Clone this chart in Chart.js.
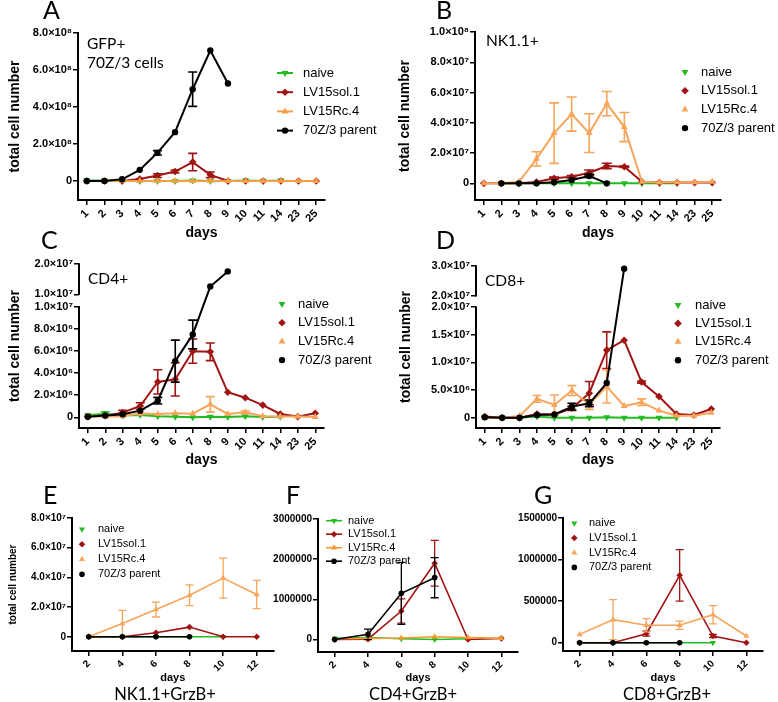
<!DOCTYPE html>
<html>
<head>
<meta charset="utf-8">
<script src="https://cdn.jsdelivr.net/npm/chart.js@4.4.0/dist/chart.umd.min.js"></script>
<style>
  body { margin: 0; background: #fff; }
  #fig { position: relative; width: 778px; height: 702px; overflow: hidden; font-family: Lato, 'Open Sans', sans-serif; }
  #fig canvas { position: absolute; left: 0; top: 0; }
  .t { position: absolute; line-height: 1; white-space: nowrap; color: #000; }
  .big { font-size: 25px; }
  .lab { font-size: 15.5px; }
  .cap { font-size: 16.5px; width: 200px; text-align: center; }
</style>
</head>
<body>
<div id="fig">
  <canvas id="cA" width="778" height="702"></canvas>
  <canvas id="cB" width="778" height="702"></canvas>
  <canvas id="cC" width="778" height="702"></canvas>
  <canvas id="cD" width="778" height="702"></canvas>
  <canvas id="cE" width="778" height="702"></canvas>
  <canvas id="cF" width="778" height="702"></canvas>
  <canvas id="cG" width="778" height="702"></canvas>

  <div class="t big" style="left:43px;top:-3px">A</div>
  <div class="t big" style="left:436px;top:-3px">B</div>
  <div class="t big" style="left:41px;top:227px">C</div>
  <div class="t big" style="left:436px;top:227px">D</div>
  <div class="t big" style="left:43px;top:482px">E</div>
  <div class="t big" style="left:286px;top:482px">F</div>
  <div class="t big" style="left:534px;top:482px">G</div>

  <div class="t lab" style="left:87px;top:36px">GFP+</div>
  <div class="t lab" style="left:87px;top:54.5px">70Z/3 cells</div>
  <div class="t lab" style="left:486px;top:33px">NK1.1+</div>
  <div class="t lab" style="left:88px;top:271px">CD4+</div>
  <div class="t lab" style="left:485px;top:273px">CD8+</div>

  <div class="t cap" style="left:65px;top:686px">NK1.1+GrzB+</div>
  <div class="t cap" style="left:313px;top:686px">CD4+GrzB+</div>
  <div class="t cap" style="left:567px;top:686px">CD8+GrzB+</div>
</div>
<script>
// ---- data ----
const days = ['1', '2', '3', '4', '5', '6', '7', '8', '9', '10', '11', '14', '23', '25'];
const days2 = ['2', '4', '6', '8', '10', '12'];
const seriesNames = ['naive', 'LV15sol.1', 'LV15Rc.4', '70Z/3 parent'];

// A: GFP+ 70Z/3 cells
const naiveA = [2e6, 2e6, 0, 0, 0, 0, 2e6, 0, 0, 2e6, 0, 2e6, null, null];
const solA = [0, 0, 0, 1e7, 2.9e7, 5.1e7, 1.02e8, 3.3e7, 0, 0, 0, 0, 0, 0];
const solAErr = [0, 0, 0, 0, 1e7, 8e6, 4.7e7, 1.5e7, 0, 0, 0, 0, 0, 0];
const rcA = [0, 0, 0, 0, 0, 0, 0, 0, 0, 0, 0, 0, 0, 0];
const parA = [0, 0, 9e6, 6e7, 1.52e8, 2.64e8, 4.96e8, 7.05e8, 5.27e8, null, null, null, null, null];
const parAErr = [0, 0, 0, 0, 1.2e7, 0, 9.3e7, 0, 0, 0, 0, 0, 0, 0];
const ticksA = [0, 2e8, 4e8, 6e8, 8e8];
const tickLabelsA = ['0', '2.0×10⁸', '4.0×10⁸', '6.0×10⁸', '8.0×10⁸'];

// B: NK1.1+
const naiveB = [null, 0, 0, 0, 0, 0, 0, 0, 0, 0, 0, 0, null, null];
const solB = [0, 0, 0, 9e5, 3.3e6, 4.4e6, 7e6, 1.15e7, 1.1e7, 1e6, 5e5, 5e5, 5e5, 5e5];
const solBErr = [0, 0, 0, 0, 8e5, 8e5, 1.8e6, 1.8e6, 5e5, 0, 0, 0, 0, 0];
const rcB = [0, 0, 1e6, 1.62e7, 3.32e7, 4.58e7, 3.32e7, 5.27e7, 3.72e7, 1e6, 5e5, 7e5, 7e5, 1e6];
const rcBErr = [0, 0, 0, 4.7e6, 2e7, 1.13e7, 1.28e7, 8e6, 9.6e6, 0, 0, 0, 0, 0];
const parB = [null, 0, 0, 0, 7e5, 2.2e6, 4.9e6, 0, null, null, null, null, null, null];
const parBErr = [0, 0, 0, 0, 0, 0, 1e6, 0, 0, 0, 0, 0, 0, 0];
const ticksB = [0, 2e7, 4e7, 6e7, 8e7, 1e8];
const tickLabelsB = ['0', '2.0×10⁷', '4.0×10⁷', '6.0×10⁷', '8.0×10⁷', '1.0×10⁸'];

// C: CD4+ (broken axis)
const naiveC = [2e5, 3e5, 1.5e5, 2e5, 1e5, 5e4, 0, 5e4, 3e4, 1e5, 3e4, 5e4, null, null];
const naiveCErr = [0, 2e5, 0, 0, 0, 0, 0, 0, 0, 0, 0, 0, 0, 0];
const solC = [6e4, 1.5e5, 4.2e5, 1.02e6, 3.2e6, 3.43e6, 5.98e6, 5.92e6, 2.26e6, 1.77e6, 1.1e6, 3e5, 6e4, 3.6e5];
const solCErr = [0, 0, 2e5, 3e5, 1.1e6, 1.5e6, 1.1e6, 8e5, 0, 0, 0, 0, 0, 0];
const rcC = [6e4, 6e4, 1e5, 3.3e5, 3e5, 3.6e5, 3.3e5, 1.17e6, 3e5, 4.5e5, 1e5, 6e4, 6e4, 3e4];
const rcCErr = [0, 0, 0, 0, 0, 0, 0, 7e5, 0, 1.2e5, 0, 0, 0, 0];
const parC = [5e4, 1.5e5, 2.7e5, 6e5, 1.5e6, 5.08e6, 7.49e6, 1.256e7, 1.756e7, null, null, null, null, null];
const parCErr = [0, 0, 0, 0, 3e5, 1.9e6, 1.3e6, 0, 0, 0, 0, 0, 0, 0];
const ticksC = [0, 2e6, 4e6, 6e6, 8e6, 1e7];
const upperTicksC = [1e7, 2e7];
const tickLabelsC = ['0', '2.0×10⁶', '4.0×10⁶', '6.0×10⁶', '8.0×10⁶', '1.0×10⁷', '1.0×10⁷', '2.0×10⁷'];

// D: CD8+ (broken axis)
const naiveD = [1e5, 0, 0, 2e5, 0, 0, 0, 1e5, 0, 0, 0, 0, null, null];
const solD = [2e5, 0, 0, 6.7e5, 6e5, 1.7e6, 4.43e6, 1.22e7, 1.4e7, 6.44e6, 3.83e6, 6.7e5, 5e5, 1.58e6];
const solDErr = [0, 0, 0, 0, 0, 4e5, 2.1e6, 3.3e6, 0, 2e5, 0, 0, 0, 0];
const rcD = [0, 0, 3e5, 3.4e6, 2.3e6, 4.9e6, 2.4e6, 5.65e6, 2.1e6, 2.8e6, 1.28e6, 3.6e5, 3.6e5, 9e5];
const rcDErr = [0, 0, 0, 6e5, 1.8e6, 9e5, 9e5, 3e6, 0, 6e5, 0, 0, 0, 0];
const parD = [1e5, 0, 0, 5e5, 6e5, 2e6, 2.6e6, 6.26e6, 2.91e7, null, null, null, null, null];
const parDErr = [0, 0, 0, 0, 0, 6e5, 6e5, 0, 0, 0, 0, 0, 0, 0];
const ticksD = [0, 5e6, 1e7, 1.5e7, 2e7];
const upperTicksD = [2e7, 3e7];
const tickLabelsD = ['0', '5.0×10⁶', '1.0×10⁷', '1.5×10⁷', '2.0×10⁷', '2.0×10⁷', '3.0×10⁷'];

// E: NK1.1+GrzB+
const naiveE = [0, 0, 0, 0, 0, null];
const solE = [0, 0, 2.7e6, 6.5e6, 0, 0];
const rcE = [0, 8.9e6, 1.83e7, 2.79e7, 3.95e7, 2.85e7];
const rcEErr = [0, 8.9e6, 5e6, 7e6, 1.35e7, 9.5e6];
const parE = [0, 0, 0, 0, null, null];
const ticksE = [0, 2e7, 4e7, 6e7, 8e7];
const tickLabelsE = ['0', '2.0×10⁷', '4.0×10⁷', '6.0×10⁷', '8.0×10⁷'];

// F: CD4+GrzB+
const naiveF = [3e4, 5e4, 2e4, 0, 2e4, null];
const solF = [0, 1e4, 7.1e5, 1.9e6, 0, 3e4];
const solFErr = [0, 0, 3e5, 5.7e5, 0, 0];
const rcF = [2e4, 3e4, 4e4, 7e4, 5e4, 3e4];
const parF = [0, 1.3e5, 1.15e6, 1.54e6, null, null];
const parFErr = [0, 1.3e5, 7.7e5, 5e5, 0, 0];
const ticksF = [0, 1e6, 2e6, 3e6];
const tickLabelsF = ['0', '1000000', '2000000', '3000000'];

// G: CD8+GrzB+
const naiveG = [0, 0, 0, 0, 0, null];
const solG = [0, 0, 1.08e5, 8.1e5, 8e4, 0];
const solGErr = [0, 0, 3e4, 3.1e5, 2e4, 0];
const rcG = [1e5, 2.77e5, 2.09e5, 2.09e5, 3.37e5, 8e4];
const rcGErr = [0, 2.4e5, 8e4, 5e4, 1.1e5, 0];
const parG = [0, 0, 0, 0, null, null];
const ticksG = [0, 5e5, 1e6, 1.5e6];
const tickLabelsG = ['0', '500000', '1000000', '1500000'];

// ---- drawing ----
const W = 778, H = 702;
const FONT = "'Liberation Sans', Arial, sans-serif";
Chart.defaults.font.family = FONT;
Chart.defaults.color = '#000';

const GREEN = '#22bb22', RED = '#a01414', ORANGE = '#f7a55a', BLACK = '#000000';
const marks = [
  { pointStyle: 'triangle', rotation: 180 },
  { pointStyle: 'rectRot', rotation: 0 },
  { pointStyle: 'triangle', rotation: 0 },
  { pointStyle: 'circle', rotation: 0 }
];

// y axis with a break: lower part [min, at], upper part [at, max]
class BrokenScale extends Chart.LinearScale {
  toPx(v, up) {
    const b = this.options.brk;
    const upH = b.upper;
    const lowH = this.bottom - this.top - b.gap - upH;
    if (up || v > b.at) return this.top + upH - (v - b.at) / (this.max - b.at) * upH;
    return this.bottom - (v - this.min) / (b.at - this.min) * lowH;
  }
  getPixelForValue(v) { return this.toPx(v, false); }
  getPixelForTick(i) { const t = this.ticks[i]; return this.toPx(t.value, t.up); }
}
BrokenScale.id = 'broken';
Chart.register(BrokenScale);

const errorBars = {
  id: 'errorBars',
  beforeDatasetDraw(chart, args, opts) {
    const ds = chart.data.datasets[args.index];
    if (!ds.err) return;
    const y = chart.scales.y, ctx = chart.ctx, cap = opts.cap;
    ctx.save();
    ctx.strokeStyle = ds.borderColor;
    ctx.lineWidth = opts.width;
    args.meta.data.forEach((pt, j) => {
      const v = ds.data[j], e = ds.err[j];
      if (v == null || !e) return;
      const y1 = y.getPixelForValue(v + e), y2 = y.getPixelForValue(v - e);
      ctx.beginPath();
      ctx.moveTo(pt.x, y1); ctx.lineTo(pt.x, y2);
      ctx.moveTo(pt.x - cap, y1); ctx.lineTo(pt.x + cap, y1);
      ctx.moveTo(pt.x - cap, y2); ctx.lineTo(pt.x + cap, y2);
      ctx.stroke();
    });
    ctx.restore();
  }
};

const sideLegend = {
  id: 'sideLegend',
  afterDraw(chart, args, o) {
    const ctx = chart.ctx;
    ctx.save();
    ctx.font = o.size + 'px ' + FONT;
    ctx.textBaseline = 'middle';
    chart.data.datasets.forEach((d, i) => {
      const y = o.y + i * o.dy;
      if (o.line) {
        ctx.strokeStyle = d.borderColor;
        ctx.lineWidth = d.borderWidth;
        ctx.beginPath();
        ctx.moveTo(o.x - o.line, y); ctx.lineTo(o.x + o.line, y);
        ctx.stroke();
      }
      ctx.fillStyle = d.pointBackgroundColor;
      Chart.helpers.drawPoint(ctx, { pointStyle: d.pointStyle, rotation: d.pointRotation, radius: d.pointRadius, borderWidth: 0 }, o.x, y);
      ctx.fillStyle = '#000';
      ctx.fillText(d.label, o.tx, y);
    });
    ctx.restore();
  }
};

const brokenBorder = {
  id: 'brokenBorder',
  afterDraw(chart) {
    const s = chart.scales.y;
    if (!(s instanceof BrokenScale)) return;
    const b = s.options.brk, ctx = chart.ctx, x = s.right;
    ctx.save();
    ctx.strokeStyle = '#000';
    ctx.lineWidth = 2;
    ctx.beginPath();
    ctx.moveTo(x, s.top - 0.75); ctx.lineTo(x, s.toPx(b.at, true) + 0.75);
    ctx.moveTo(x, s.toPx(b.at, false) - 0.75); ctx.lineTo(x, s.bottom);
    ctx.stroke();
    ctx.restore();
  }
};

function panel(id, p) {
  const ylh = p.yTitleSize * 1.2, xlh = p.xTitleSize * 1.2;
  const yW = p.yTitleX ? p.area.l - (p.yTitleX - ylh / 2 - 4) : 60;
  const xH = p.xTitleY + xlh / 2 + 4 - p.area.b;
  const colors = p.colors || [GREEN, RED, ORANGE, BLACK];
  const datasets = p.series.map((data, i) => ({
    label: seriesNames[i],
    data: data,
    err: p.errs[i],
    borderColor: colors[i],
    backgroundColor: colors[i],
    pointBackgroundColor: colors[i],
    pointBorderColor: colors[i],
    pointBorderWidth: 0,
    pointStyle: marks[i].pointStyle,
    pointRotation: marks[i].rotation,
    pointRadius: p.radius[i],
    borderWidth: p.lw,
    spanGaps: true,
    tension: 0,
    clip: false,
    order: 3 - i
  }));
  const tickVals = p.ticks.concat(p.upperTicks || []);
  const nLow = p.ticks.length;
  new Chart(document.getElementById(id), {
    type: 'line',
    data: { labels: p.labels, datasets: datasets },
    options: {
      responsive: false,
      animation: false,
      events: [],
      layout: { padding: { left: p.area.l - yW, top: p.area.t, right: W - p.area.r, bottom: H - p.area.b - xH } },
      plugins: {
        legend: { display: false },
        tooltip: { enabled: false },
        errorBars: { cap: p.cap, width: p.lw * 0.8 },
        sideLegend: p.legend
      },
      scales: {
        x: {
          type: 'category',
          offset: true,
          afterFit: s => { s.height = xH; },
          ticks: { autoSkip: false, minRotation: 45, maxRotation: 45, padding: 2, color: '#000', font: { size: p.xTickSize, weight: 'bold' } },
          grid: { display: true, drawOnChartArea: false, drawTicks: true, tickLength: 5, color: '#000', lineWidth: 1.5, offset: false },
          border: { display: true, color: '#000', width: 2 },
          title: { display: true, text: 'days', color: '#000', font: { size: p.xTitleSize, weight: 'bold' }, padding: { top: 0, bottom: 4 } }
        },
        y: {
          type: p.brk ? 'broken' : 'linear',
          brk: p.brk,
          min: p.min,
          max: p.max,
          bounds: 'data',
          afterBuildTicks: s => { s.ticks = tickVals.map((v, i) => ({ value: v, up: i >= nLow })); },
          afterFit: s => { s.width = yW; },
          ticks: { autoSkip: false, padding: 1, color: '#000', font: { size: p.yTickSize, weight: 'bold' }, callback: (v, i) => p.tickLabels[i] },
          grid: { display: true, drawOnChartArea: false, drawTicks: true, tickLength: 5, color: '#000', lineWidth: 1.5 },
          border: { display: !p.brk, color: '#000', width: 2 },
          title: { display: !!p.yTitleX, text: 'total cell number', color: '#000', font: { size: p.yTitleSize, weight: 'bold' }, padding: { top: 4, bottom: 4 } }
        }
      }
    },
    plugins: [errorBars, sideLegend, brokenBorder]
  });
}

const big = { xTickSize: 11, yTickSize: 11, xTitleSize: 14, yTitleSize: 14, lw: 2, cap: 4.5, radius: [4, 3.8, 4, 3.2] };
const small = { xTickSize: 10, yTickSize: 10, xTitleSize: 11, yTitleSize: 10, lw: 1.6, cap: 4, radius: [3.5, 3.3, 3.5, 2.8] };

panel('cA', Object.assign({}, big, {
  labels: days, series: [naiveA, solA, rcA, parA], errs: [null, solAErr, null, parAErr],
  area: { l: 78, t: 33, r: 325, b: 200 }, min: -1.03e8, max: 8e8,
  ticks: ticksA, tickLabels: tickLabelsA, yTitleX: 15, xTitleY: 233,
  colors: [GREEN, RED, '#f59f45', BLACK],
  legend: { x: 285, tx: 303, y: 73, dy: 19.2, size: 13, line: 8 }
}));
panel('cB', Object.assign({}, big, {
  labels: days, series: [naiveB, solB, rcB, parB], errs: [null, solBErr, rcBErr, parBErr],
  area: { l: 475, t: 32, r: 721, b: 200 }, min: -1.1e7, max: 1e8,
  ticks: ticksB, tickLabels: tickLabelsB, yTitleX: 404.7, xTitleY: 233, cap: 5,
  legend: { x: 685, tx: 701, y: 72, dy: 18.7, size: 13, line: 0 }
}));
panel('cC', Object.assign({}, big, {
  labels: days, series: [naiveC, solC, rcC, parC], errs: [naiveCErr, solCErr, rcCErr, parCErr],
  area: { l: 79, t: 264, r: 324, b: 428 }, min: -0.97e6, max: 2e7, brk: { at: 1e7, gap: 12.4, upper: 30.3 },
  ticks: ticksC, upperTicks: upperTicksC, tickLabels: tickLabelsC, yTitleX: 15.3, xTitleY: 460,
  legend: { x: 282, tx: 298, y: 304, dy: 18.7, size: 13, line: 0 }
}));
panel('cD', Object.assign({}, big, {
  labels: days, series: [naiveD, solD, rcD, parD], errs: [null, solDErr, rcDErr, parDErr],
  area: { l: 476, t: 266, r: 720, b: 428 }, min: -1.86e6, max: 3e7, brk: { at: 2e7, gap: 11.3, upper: 29.7 },
  ticks: ticksD, upperTicks: upperTicksD, tickLabels: tickLabelsD, yTitleX: 406, xTitleY: 460,
  legend: { x: 678, tx: 695, y: 305, dy: 18.4, size: 13, line: 0 }
}));
panel('cE', Object.assign({}, small, {
  labels: days2, series: [naiveE, solE, rcE, parE], errs: [null, null, rcEErr, null],
  area: { l: 72, t: 518, r: 273.5, b: 651 }, min: -0.96e7, max: 8e7,
  ticks: ticksE, tickLabels: tickLabelsE, yTitleX: 13.7, xTitleY: 678.3,
  legend: { x: 82, tx: 98, y: 529.3, dy: 15, size: 11, line: 0 }
}));
panel('cF', Object.assign({}, small, {
  labels: days2, series: [naiveF, solF, rcF, parF], errs: [null, solFErr, null, parFErr],
  area: { l: 318, t: 519, r: 518, b: 652 }, min: -0.31e6, max: 3e6,
  ticks: ticksF, tickLabels: tickLabelsF, yTitleX: 0, xTitleY: 678.3,
  colors: [GREEN, RED, '#f39a2e', BLACK],
  legend: { x: 334, tx: 348, y: 520.7, dy: 13.5, size: 11, line: 8 }
}));
panel('cG', Object.assign({}, small, {
  labels: days2, series: [naiveG, solG, rcG, parG], errs: [null, solGErr, rcGErr, null],
  area: { l: 563, t: 518, r: 763, b: 651 }, min: -1e5, max: 1.5e6,
  ticks: ticksG, tickLabels: tickLabelsG, yTitleX: 0, xTitleY: 678.3,
  legend: { x: 574.3, tx: 589, y: 523.3, dy: 14.7, size: 11, line: 0 }
}));
</script>
</body>
</html>
